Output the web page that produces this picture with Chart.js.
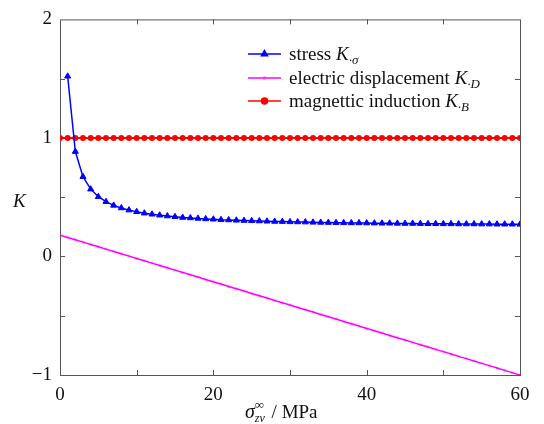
<!DOCTYPE html>
<html>
<head>
<meta charset="utf-8">
<script src="https://cdn.jsdelivr.net/npm/chart.js@4"></script>
<style>
  body { margin: 0; background: #fff; }
  canvas { display: block; }
</style>
</head>
<body>
<canvas id="chart" width="544" height="424"></canvas>
<script>
// datos
const xValues = [0,1,2,3,4,5,6,7,8,9,10,11,12,13,14,15,16,17,18,19,20,21,22,23,24,25,26,27,28,29,30,
  31,32,33,34,35,36,37,38,39,40,41,42,43,44,45,46,47,48,49,50,51,52,53,54,55,56,57,58,59,60];

// K_sigma, desde x = 1 hasta 60
const stressK = [1.52,0.885,0.673,0.568,0.504,0.462,0.431,0.409,0.391,0.377,
  0.365,0.356,0.348,0.341,0.335,0.329,0.325,0.321,0.317,0.314,
  0.310,0.308,0.305,0.303,0.301,0.299,0.297,0.295,0.294,0.292,
  0.291,0.290,0.288,0.287,0.286,0.285,0.284,0.283,0.283,0.282,
  0.281,0.280,0.280,0.279,0.278,0.278,0.277,0.276,0.276,0.275,
  0.275,0.274,0.274,0.274,0.273,0.273,0.272,0.272,0.272,0.271];

// K_D, desde x = 0 hasta 60
const electricK = [0.180,0.160,0.141,0.121,0.101,0.082,0.062,0.042,0.023,0.003,
  -0.017,-0.036,-0.056,-0.076,-0.095,-0.115,-0.135,-0.154,-0.174,-0.194,
  -0.213,-0.233,-0.253,-0.272,-0.292,-0.312,-0.331,-0.351,-0.371,-0.390,
  -0.410,-0.430,-0.449,-0.469,-0.489,-0.508,-0.528,-0.548,-0.567,-0.587,
  -0.607,-0.626,-0.646,-0.666,-0.685,-0.705,-0.725,-0.744,-0.764,-0.784,
  -0.803,-0.823,-0.843,-0.862,-0.882,-0.902,-0.921,-0.941,-0.961,-0.980,-1.000];

// K_B, desde x = 0 hasta 60
const magneticK = [1,1,1,1,1,1,1,1,1,1,1,1,1,1,1,1,1,1,1,1,1,1,1,1,1,1,1,1,1,1,
  1,1,1,1,1,1,1,1,1,1,1,1,1,1,1,1,1,1,1,1,1,1,1,1,1,1,1,1,1,1,1];

const xTicks = [0, 20, 40, 60];
const yTicks = [-1, 0, 1, 2];
const xMinorTicks = [10, 20, 30, 40, 50];
const yMinorTicks = [-0.5, 0, 0.5, 1, 1.5];

const serif = "'Liberation Serif', 'DejaVu Serif', serif";
const axisColor = "#555";
const starColor = "rgba(255,0,255,0.3)";

function toPoints(xs, ys) {
  return ys.map((y, i) => ({ x: xs[i], y: y }));
}

// Dibujar texto con subindices
function drawRich(ctx, parts, x, y) {
  parts.forEach(p => {
    ctx.font = p.font;
    ctx.fillText(p.t, x + (p.dx || 0), y + (p.dy || 0));
    if (!p.noAdvance) x += ctx.measureText(p.t).width + (p.dx || 0);
  });
  return x;
}

const framePlugin = {
  id: "frame",
  beforeDatasetsDraw(chart) {
    const { ctx, chartArea: a, scales } = chart;
    ctx.save();
    ctx.strokeStyle = axisColor;
    ctx.lineWidth = 1;
    ctx.strokeRect(a.left + 0.5, a.top + 0.5, a.right - a.left, a.bottom - a.top);
    ctx.beginPath();
    xMinorTicks.forEach(v => {
      const px = Math.round(scales.x.getPixelForValue(v)) + 0.5;
      ctx.moveTo(px, a.bottom); ctx.lineTo(px, a.bottom - 5);
      ctx.moveTo(px, a.top); ctx.lineTo(px, a.top + 5);
    });
    yMinorTicks.forEach(v => {
      const py = Math.round(scales.y.getPixelForValue(v)) + 0.5;
      ctx.moveTo(a.left, py); ctx.lineTo(a.left + 5, py);
      ctx.moveTo(a.right, py); ctx.lineTo(a.right - 5, py);
    });
    ctx.stroke();
    ctx.restore();
  },
  afterDraw(chart) {
    const { ctx } = chart;
    ctx.save();
    ctx.fillStyle = "#111";
    ctx.textBaseline = "alphabetic";

    // titulo eje y
    ctx.font = "italic 19px " + serif;
    ctx.fillText("K", 13, 207);

    // titulo eje x
    drawRich(ctx, [
      { t: "σ", font: "italic 20px " + serif },
      { t: "∞", font: "13px " + serif, dy: -9, noAdvance: true },
      { t: "zv", font: "italic 12px " + serif, dy: 4 },
      { t: " / MPa", font: "19px " + serif, dx: 2 }
    ], 245, 418);

    // leyenda
    const rows = [
      { color: "#0000ff", style: "triangle", r: 3.5, fill: "#0000ff", text: "stress ", sub: "·σ" },
      { color: "#ff00ff", style: "star", r: 2, fill: starColor, text: "electric displacement ", sub: "·D" },
      { color: "#ff0000", style: "circle", r: 3, fill: "#ff0000", text: "magnettic induction ", sub: "·B" }
    ];
    const rowY = [54, 78, 101];
    rows.forEach((r, i) => {
      const y = rowY[i];
      ctx.strokeStyle = r.color;
      ctx.lineWidth = 1.5;
      ctx.beginPath();
      ctx.moveTo(248, y); ctx.lineTo(281, y);
      ctx.stroke();
      ctx.fillStyle = r.fill;
      ctx.strokeStyle = r.fill;
      Chart.helpers.drawPoint(ctx, { pointStyle: r.style, radius: r.r, borderWidth: 0.8 }, 264.5, y);
      ctx.fillStyle = "#111";
      drawRich(ctx, [
        { t: r.text, font: "19px " + serif },
        { t: "K", font: "italic 19px " + serif },
        { t: r.sub, font: "italic 13px " + serif, dy: 4 }
      ], 289, y + 6);
    });
    ctx.restore();
  }
};

const ctx = document.getElementById("chart").getContext("2d");
const chart = new Chart(ctx, {
  type: "line",
  data: {
    datasets: [
      {
        label: "stress",
        data: toPoints(xValues.slice(1), stressK),
        borderColor: "#0000ff",
        backgroundColor: "#0000ff",
        borderWidth: 1.5,
        pointStyle: "triangle",
        pointRadius: 3.5,
        pointBorderWidth: 1
      },
      {
        label: "electric displacement",
        data: toPoints(xValues, electricK),
        borderColor: "#ff00ff",
        backgroundColor: starColor,
        pointBorderColor: starColor,
        borderWidth: 1.5,
        pointStyle: "star",
        pointRadius: 2,
        pointBorderWidth: 0.8
      },
      {
        label: "magnettic induction",
        data: toPoints(xValues, magneticK),
        borderColor: "#ff0000",
        backgroundColor: "#ff0000",
        borderWidth: 2,
        pointStyle: "circle",
        pointRadius: 3,
        pointBorderWidth: 0
      }
    ]
  },
  options: {
    responsive: false,
    animation: false,
    layout: { padding: { top: 18, right: 24, left: 0, bottom: 0 } },
    plugins: { legend: { display: false }, tooltip: { enabled: false } },
    elements: { line: { tension: 0 } },
    scales: {
      x: {
        type: "linear",
        min: 0,
        max: 60,
        afterBuildTicks: s => { s.ticks = xTicks.map(v => ({ value: v })); },
        afterFit: s => { s.height = 49; },
        grid: { display: false, drawTicks: false },
        border: { display: false },
        ticks: { color: "#111", font: { family: serif, size: 19 }, padding: 9, maxRotation: 0 }
      },
      y: {
        type: "linear",
        min: -1,
        max: 2,
        afterBuildTicks: s => { s.ticks = yTicks.map(v => ({ value: v })); },
        afterFit: s => { s.width = 60; },
        grid: { display: false, drawTicks: false },
        border: { display: false },
        ticks: {
          color: "#111",
          font: { family: serif, size: 19 },
          padding: 8,
          callback: v => String(v).replace("-", "−")
        }
      }
    }
  },
  plugins: [framePlugin]
});
</script>
</body>
</html>
